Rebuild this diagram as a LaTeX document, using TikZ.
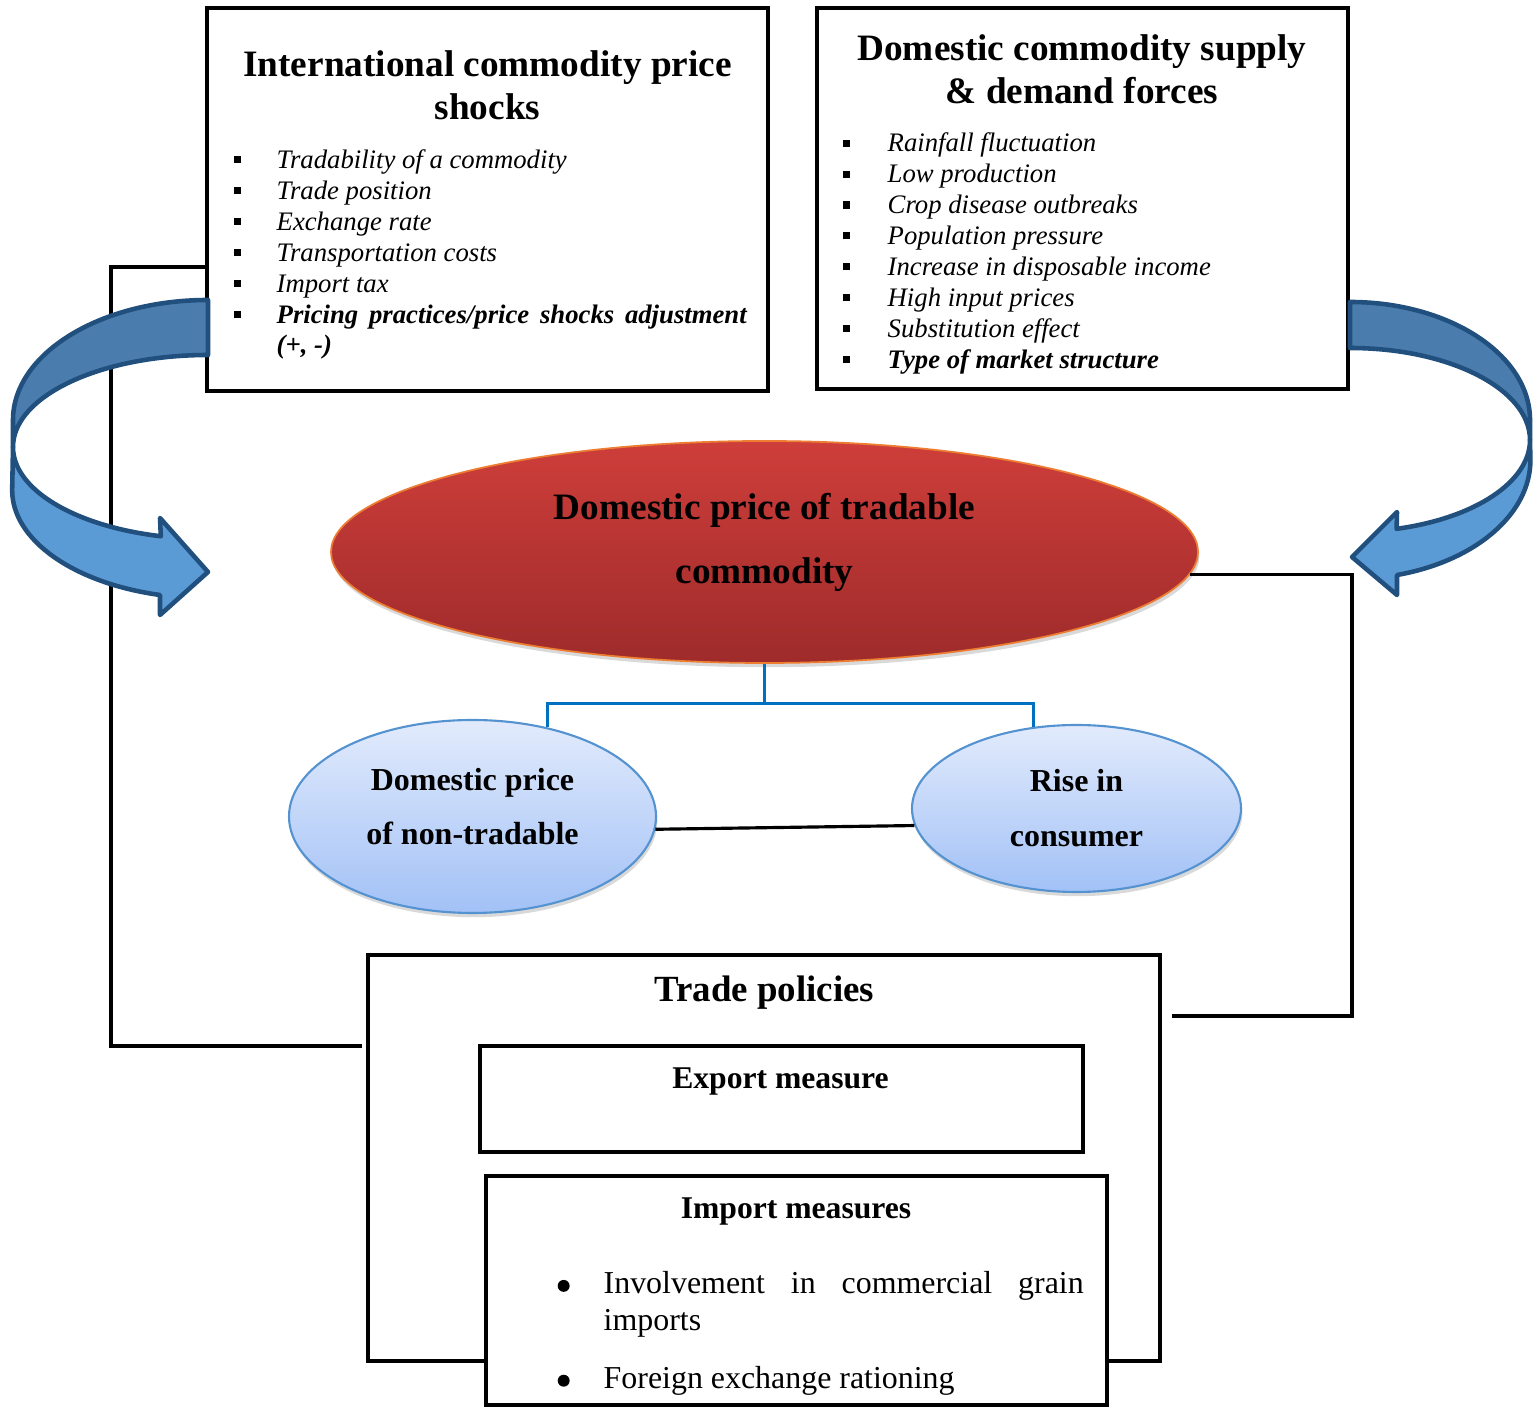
\documentclass[tikz,border=0pt]{standalone}
\usepackage{fontspec}
\setmainfont{Liberation Serif}
\usetikzlibrary{shapes.geometric,shadows}

\definecolor{arrowdark}{RGB}{74,125,174}
\definecolor{arrowlight}{RGB}{91,155,213}
\definecolor{arrowedge}{RGB}{33,80,126}
\definecolor{redtop}{RGB}{206,62,58}
\definecolor{redbottom}{RGB}{158,43,43}
\definecolor{rededge}{RGB}{237,125,49}
\definecolor{bluetop}{RGB}{226,235,252}
\definecolor{bluebottom}{RGB}{162,193,246}
\definecolor{blueedge}{RGB}{84,146,208}
\definecolor{forkblue}{RGB}{0,112,192}

\newcommand{\sqbullet}{\rule[1.5pt]{2pt}{2pt}}
\newcommand{\roundbullet}{\tikz[baseline=-2.3pt]\fill (0,0) circle (1.7pt);}

\tikzset{
    box/.style={draw, line width=0.9pt, inner sep=0pt},
    heading/.style={font=\fontsize{10.6}{12.2}\selectfont\bfseries, align=center, inner sep=0pt},
    factors/.style={font=\fontsize{7.6}{8.8}\selectfont\itshape, inner sep=0pt, anchor=west},
    ovaltext/.style={font=\fontsize{10.6}{18.2}\selectfont\bfseries, align=center, inner sep=0pt},
    smalltext/.style={font=\fontsize{9.1}{15.6}\selectfont\bfseries, align=center, inner sep=0pt},
    link/.style={line width=0.9pt},
    bluelink/.style={forkblue, line width=0.9pt},
    backband/.style={fill=arrowdark, draw=arrowedge, line width=1.3pt, line join=round},
    frontband/.style={fill=arrowlight, draw=arrowedge, line width=1.3pt, line join=round},
    redoval/.style={ellipse, draw=rededge, line width=0.5pt, inner sep=0pt, top color=redtop, bottom color=redbottom,
        drop shadow={shadow xshift=0.4pt, shadow yshift=-1.2pt, fill=black, opacity=0.15}},
    blueoval/.style={ellipse, draw=blueedge, line width=0.6pt, inner sep=0pt, top color=bluetop, bottom color=bluebottom,
        drop shadow={shadow xshift=0.4pt, shadow yshift=-1.2pt, fill=black, opacity=0.15}}
}

\begin{document}
\begin{tikzpicture}
            \useasboundingbox (0,0) rectangle (15.38,-14.07);

            % the two boxes of forces
            \node[box, minimum width=5.61cm, minimum height=3.83cm] (intl) at (4.875,-1.995) {};
            \node[heading] (intltitle) at (4.875,-0.855) {International commodity price\\shocks};
            \node[factors] (intllist) at (2.33,-2.55) {\begin{tabular}{@{}p{0.43cm}@{}l@{}}
                \sqbullet & Tradability of a commodity\\
                \sqbullet & Trade position\\
                \sqbullet & Exchange rate\\
                \sqbullet & Transportation costs\\
                \sqbullet & Import tax\\
                \sqbullet & \textbf{\makebox[4.70cm][s]{Pricing practices/price shocks adjustment}}\\
                 & \textbf{(+, -)}
            \end{tabular}};

            \node[box, minimum width=5.31cm, minimum height=3.81cm] (domestic) at (10.825,-1.985) {};
            \node[heading] (domtitle) at (10.82,-0.695) {Domestic commodity supply\\\& demand forces};
            \node[factors] (domlist) at (8.42,-2.54) {\begin{tabular}{@{}p{0.45cm}@{}l@{}}
                \sqbullet & Rainfall fluctuation\\
                \sqbullet & Low production\\
                \sqbullet & Crop disease outbreaks\\
                \sqbullet & Population pressure\\
                \sqbullet & Increase in disposable income\\
                \sqbullet & High input prices\\
                \sqbullet & Substitution effect\\
                \sqbullet & \textbf{Type of market structure}
            \end{tabular}};

            % ovals
            \node[redoval, minimum width=8.67cm, minimum height=2.22cm] (tradable) at (7.645,-5.52) {};
            \node[ovaltext] (tradtext) at (7.645,-5.42) {Domestic price of tradable\\commodity};
            \node[blueoval, minimum width=3.67cm, minimum height=1.93cm] (nontrad) at (4.725,-8.165) {};
            \node[smalltext] (nontradtext) at (4.725,-8.065) {Domestic price\\of non-tradable};
            \node[blueoval, minimum width=3.29cm, minimum height=1.67cm] (consumer) at (10.765,-8.085) {};
            \node[smalltext] (consumertext) at (10.765,-8.08) {Rise in\\consumer};

            % trade policies
            \node[box, minimum width=7.92cm, minimum height=4.06cm] (trade) at (7.64,-11.58) {};
            \node[heading, font=\fontsize{10.5}{12}\selectfont\bfseries] (tradetitle) at (7.645,-9.93) {Trade policies};
            \node[box, minimum width=6.03cm, minimum height=1.06cm] (export) at (7.815,-10.99) {};
            \node[heading, font=\fontsize{9}{11}\selectfont\bfseries] (exporttext) at (7.805,-10.82) {Export measure};
            \node[box, fill=white, minimum width=6.21cm, minimum height=2.29cm] (import) at (7.965,-12.905) {};
            \node[heading, font=\fontsize{9}{11}\selectfont\bfseries] (importtitle) at (7.96,-12.12) {Import measures};
            \node[factors, font=\fontsize{9.08}{10.5}\selectfont] (importlist) at (5.57,-13.34) {\begin{tabular}{@{}p{0.46cm}@{}l@{}}
                \roundbullet & \makebox[4.80cm][s]{Involvement in commercial grain}\\
                 & imports\\[0.21cm]
                \roundbullet & Foreign exchange rationing
            \end{tabular}};

            % connectors
            \coordinate (lside) at (1.11,-10.46);
            \coordinate (lend) at (3.62,-10.46);
            \coordinate (rside) at (13.52,-10.16);
            \coordinate (rend) at (11.72,-10.16);
            \draw[link] ([yshift=-0.675cm]intl.west) -| (lside) -- (lend);
            \draw[link] (tradable.-3) -| (rside) -- (rend);
            \draw[link] (nontrad.-4) -- (consumer.186);
            \draw[bluelink] (tradable.south) -- ++(0,-0.40) coordinate (fork);
            \draw[bluelink] (nontrad.50) |- (fork) -| (consumer.118);

            % curved arrows
            \filldraw[backband] (2.08,-3.00) arc[start angle=90, end angle=180, x radius=1.95, y radius=1.20]
                -- (0.13,-4.47) arc[start angle=180, end angle=90, x radius=1.95, y radius=0.92] -- cycle;
            \filldraw[frontband] (0.13,-4.47) arc[start angle=180, end angle=256, x radius=1.95, y radius=0.92]
                -- (1.60,-5.18) -- (2.08,-5.72) -- (1.60,-6.15) -- (1.60,-5.95)
                arc[start angle=256, end angle=180, x radius=1.95, y radius=1.08] -- cycle;
            \filldraw[backband] (13.50,-3.02) arc[start angle=90, end angle=0, x radius=1.80, y radius=1.18]
                -- (15.30,-4.40) arc[start angle=0, end angle=90, x radius=1.80, y radius=0.92] -- cycle;
            \filldraw[frontband] (15.30,-4.40) arc[start angle=0, end angle=-75, x radius=1.80, y radius=0.92]
                -- (13.97,-5.12) -- (13.52,-5.57) -- (13.97,-5.95) -- (13.97,-5.75)
                arc[start angle=-75, end angle=0, x radius=1.80, y radius=1.19] -- cycle;
\end{tikzpicture}
\end{document}
